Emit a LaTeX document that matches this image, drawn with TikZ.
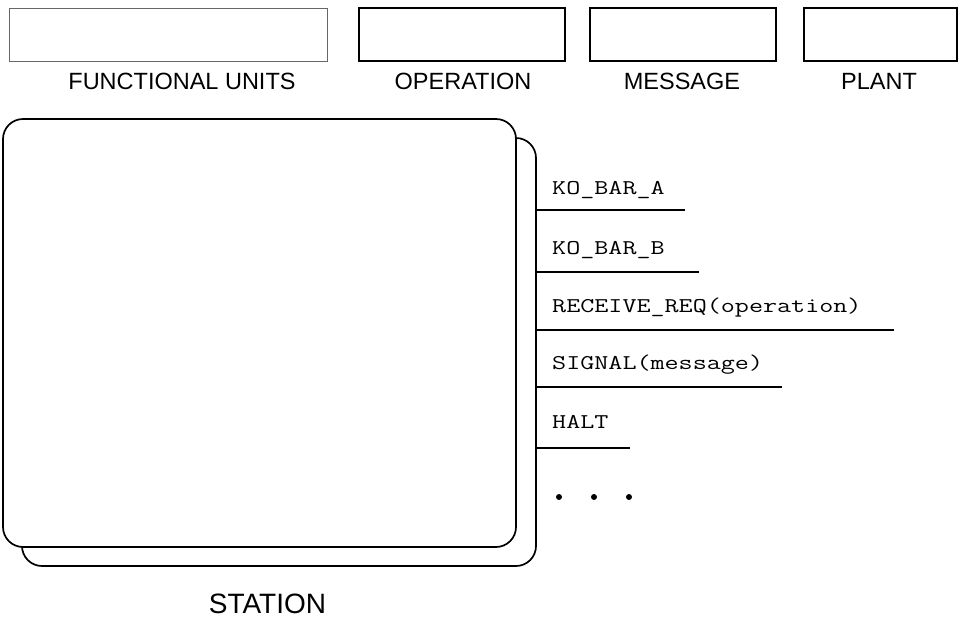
\documentclass[tikz,border=0pt]{standalone}
\usepackage{fontspec}
\setmainfont{Liberation Sans}
\newfontfamily\monofont[FakeStretch=1.3]{Latin Modern Mono}
\begin{document}
\begin{tikzpicture}[x=1pt,y=-1pt,
  topbox/.style={draw, line width=1.6pt, inner sep=0pt, minimum height=53pt},
  lbl/.style={font=\fontsize{23.5}{26}\selectfont, inner sep=0pt, anchor=base},
  mono/.style={font=\monofont\fontsize{21}{24}\selectfont, inner sep=0pt, anchor=base west},
  stationbox/.style={draw, line width=1.7pt, rounded corners=20pt, fill=white, inner sep=0pt, minimum height=428pt},
  opline/.style={line width=1.7pt},
  dotmark/.style={circle, fill, inner sep=0pt, minimum size=6pt}]
\useasboundingbox (0,0) rectangle (959,619);
% top legend boxes
\node[topbox, draw=black!60, line width=0.8pt, minimum width=318pt] (fu) at (168,34.5) {};
\node[topbox, minimum width=206pt] (op) at (462,34.5) {};
\node[topbox, minimum width=186pt] (msg) at (683,34.5) {};
\node[topbox, minimum width=153pt] (pl) at (880.5,34.5) {};
\node[lbl] (fulbl) at (182,89) {FUNCTIONAL UNITS};
\node[lbl] (oplbl) at (463,89) {OPERATION};
\node[lbl] (msglbl) at (682,89) {MESSAGE};
\node[lbl] (pllbl) at (879,89) {PLANT};
% station
\node[stationbox, minimum width=514pt] (back) at (279,352) {};
\node[stationbox, minimum width=513pt] (front) at (259.5,333) {};
\node[lbl, font=\fontsize{28}{32}\selectfont] (stlbl) at (267.5,613) {STATION};
% operations
\node[mono] (ta) at (552,194) {KO\_BAR\_A};
\node[mono] (tb) at (552,254) {KO\_BAR\_B};
\node[mono] (tc) at (552,312) {RECEIVE\_REQ(operation)};
\node[mono] (td) at (552,369) {SIGNAL(message)};
\node[mono] (te) at (552,428) {HALT};
\coordinate (ea) at (685,210);
\coordinate (eb) at (699,272);
\coordinate (ec) at (894,330);
\coordinate (ed) at (782,387);
\coordinate (ee) at (630,448);
\foreach \e in {ea,eb,ec,ed,ee}
  \draw[opline] (back.east |- \e) -- (\e);
\node[dotmark] (d1) at (559,497) {};
\node[dotmark] (d2) at (594,497) {};
\node[dotmark] (d3) at (629,497) {};
\end{tikzpicture}
\end{document}
